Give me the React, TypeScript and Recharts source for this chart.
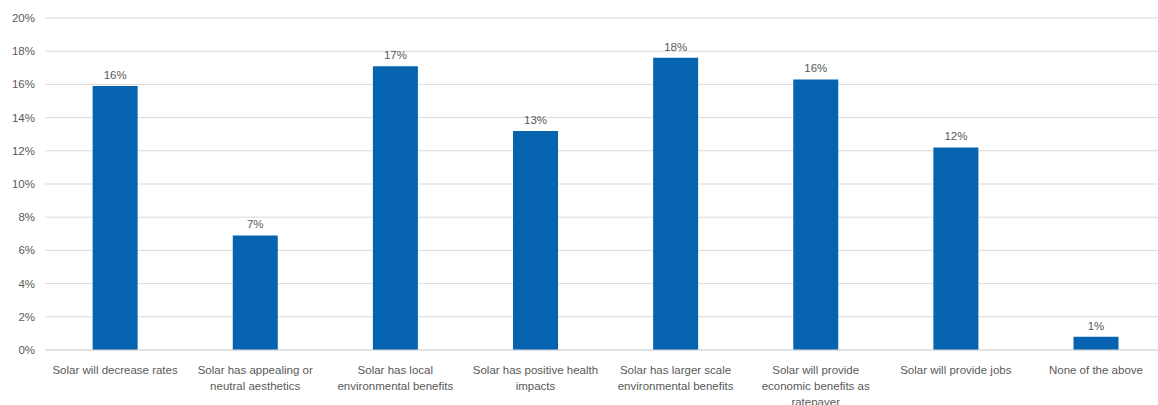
import React from 'react';
import { BarChart, Bar, XAxis, YAxis, CartesianGrid, LabelList } from 'recharts';

const categories = [
  'Solar will decrease rates',
  'Solar has appealing or neutral aesthetics',
  'Solar has local environmental benefits',
  'Solar has positive health impacts',
  'Solar has larger scale environmental benefits',
  'Solar will provide economic benefits as ratepayer',
  'Solar will provide jobs',
  'None of the above',
];

// share of respondents, in percent
const shares = [15.9, 6.9, 17.1, 13.2, 17.6, 16.3, 12.2, 0.8];

const yTicks = [0, 2, 4, 6, 8, 10, 12, 14, 16, 18, 20];

const FONT = '"Liberation Sans", Arial, sans-serif';
const TEXT = '#595959';
const GRID = '#d9d9d9';
const BLUE = '#0563b0';

const data = categories.map((name, i) => ({ name, value: shares[i] }));

// simple word wrap so long category names stack under the bar
const wrap = (text: string, max = 25) => {
  const lines: string[] = [];
  let cur = '';
  text.split(' ').forEach(w => {
    const next = cur ? cur + ' ' + w : w;
    if (next.length > max && cur) {
      lines.push(cur);
      cur = w;
    } else {
      cur = next;
    }
  });
  if (cur) lines.push(cur);
  return lines;
};

const CategoryTick = (props: any) => {
  const { x, y, payload } = props;
  const lines = wrap(payload.value);
  return (
    <text x={x} y={y} textAnchor="middle" fill={TEXT} fontSize={11.5} fontFamily={FONT}>
      {lines.map((l, i) => (
        <tspan key={i} x={x} dy={i === 0 ? 16 : 16}>
          {l}
        </tspan>
      ))}
    </text>
  );
};

const App: React.FC = () => {
  React.useEffect(() => {
    document.body.style.margin = '0';
  }, []);

  // the plot runs a little past the right edge of the frame
  return (
    <div style={{ width: 1158, height: 405, overflow: 'hidden', background: '#fff' }}>
      <BarChart
        width={1166}
        height={405}
        data={data}
        margin={{ top: 18, right: 0, bottom: 0, left: 0 }}
        barCategoryGap="34%"
      >
        <CartesianGrid vertical={false} stroke={GRID} strokeWidth={1} />
        <XAxis
          dataKey="name"
          height={55}
          interval={0}
          tick={<CategoryTick />}
          tickLine={false}
          axisLine={{ stroke: GRID }}
        />
        <YAxis
          width={45}
          domain={[0, 20]}
          ticks={yTicks}
          tickFormatter={(v: number) => `${v}%`}
          tick={{ fill: TEXT, fontSize: 11.5, fontFamily: FONT }}
          tickLine={false}
          axisLine={false}
          tickSize={0}
          tickMargin={10}
        />
        <Bar dataKey="value" fill={BLUE} isAnimationActive={false}>
          <LabelList
            dataKey="value"
            position="top"
            offset={7}
            formatter={(v: number) => `${Math.round(v)}%`}
            style={{ fill: TEXT, fontSize: 11.5, fontFamily: FONT }}
          />
        </Bar>
      </BarChart>
    </div>
  );
};

export default App;
